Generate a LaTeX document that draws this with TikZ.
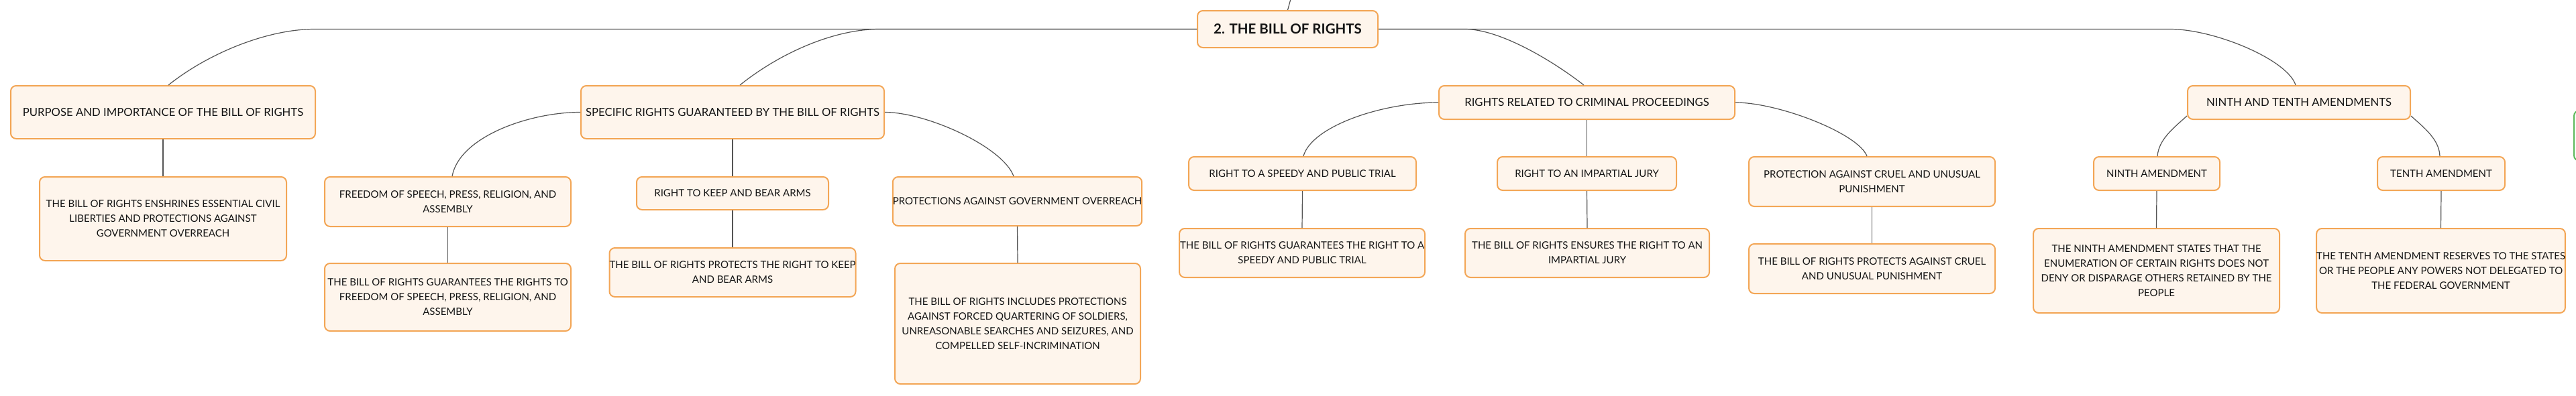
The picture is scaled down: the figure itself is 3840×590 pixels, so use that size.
\documentclass[tikz,border=0pt]{standalone}
\usepackage{fontspec}
\setmainfont{Lato}
\usepackage{tikz}
\usetikzlibrary{calc}

\definecolor{boxline}{RGB}{243,166,86}
\definecolor{boxfill}{RGB}{254,245,236}
\definecolor{linkgray}{RGB}{85,85,85}
\definecolor{nextgreen}{RGB}{92,184,92}
\definecolor{ink}{RGB}{20,20,20}

\tikzset{
  box/.style={draw=boxline, fill=boxfill, line width=2pt, rounded corners=8pt,
    align=center, inner sep=0pt, text=ink},
  rootbox/.style={box, font=\bfseries\fontsize{20.5}{24}\selectfont},
  topicbox/.style={box, font=\fontsize{16.7}{22}\selectfont},
  notebox/.style={box, font=\fontsize{15}{22}\selectfont},
  link/.style={draw=linkgray, line width=1.2pt}
}

\begin{document}
\begin{tikzpicture}[x=1pt,y=-1pt]
\useasboundingbox (0,0) rectangle (3840,590);

% root
\node[rootbox, minimum width=269, minimum height=55] (root) at (1919.5,43.5) {2. THE BILL OF RIGHTS};
\coordinate (up) at (1925,-5);

% main topics
\node[topicbox, minimum width=454, minimum height=79] (purpose) at (243,167.5) {PURPOSE AND IMPORTANCE OF THE BILL OF RIGHTS};
\node[topicbox, minimum width=452, minimum height=79] (specific) at (1092,167.5) {SPECIFIC RIGHTS GUARANTEED BY THE BILL OF RIGHTS};
\node[topicbox, minimum width=441, minimum height=50] (crim) at (2365.5,153) {RIGHTS RELATED TO CRIMINAL PROCEEDINGS};
\node[topicbox, minimum width=332, minimum height=50] (ninten) at (3427,153) {NINTH AND TENTH AMENDMENTS};

% subtopics
\node[notebox, minimum width=367, minimum height=74] (freedom) at (667.5,301) {FREEDOM OF SPEECH, PRESS, RELIGION, AND\\ASSEMBLY};
\node[notebox, minimum width=286, minimum height=49] (arms) at (1092,288.5) {RIGHT TO KEEP AND BEAR ARMS};
\node[notebox, minimum width=367, minimum height=73] (protect) at (1516.5,300.5) {PROTECTIONS AGAINST GOVERNMENT OVERREACH};
\node[notebox, minimum width=339, minimum height=50] (speedy) at (1941.5,259) {RIGHT TO A SPEEDY AND PUBLIC TRIAL};
\node[notebox, minimum width=267, minimum height=50] (jury) at (2365.5,259) {RIGHT TO AN IMPARTIAL JURY};
\node[notebox, minimum width=367, minimum height=74] (cruel) at (2790.5,271) {PROTECTION AGAINST CRUEL AND UNUSUAL\\PUNISHMENT};
\node[notebox, minimum width=188, minimum height=50] (ninth) at (3215,259) {NINTH AMENDMENT};
\node[notebox, minimum width=190, minimum height=50] (tenth) at (3639,259) {TENTH AMENDMENT};

% notes
\node[notebox, minimum width=368, minimum height=125] (purposeN) at (243,326.5) {THE BILL OF RIGHTS ENSHRINES ESSENTIAL CIVIL\\LIBERTIES AND PROTECTIONS AGAINST\\GOVERNMENT OVERREACH};
\node[notebox, minimum width=367, minimum height=101] (freedomN) at (667.5,443.5) {THE BILL OF RIGHTS GUARANTEES THE RIGHTS TO\\FREEDOM OF SPEECH, PRESS, RELIGION, AND\\ASSEMBLY};
\node[notebox, minimum width=366, minimum height=73] (armsN) at (1092,406.5) {THE BILL OF RIGHTS PROTECTS THE RIGHT TO KEEP\\AND BEAR ARMS};
\node[notebox, minimum width=366, minimum height=180] (protectN) at (1517,483) {THE BILL OF RIGHTS INCLUDES PROTECTIONS\\AGAINST FORCED QUARTERING OF SOLDIERS,\\UNREASONABLE SEARCHES AND SEIZURES, AND\\COMPELLED SELF-INCRIMINATION};
\node[notebox, minimum width=366, minimum height=73] (speedyN) at (1941,377.5) {THE BILL OF RIGHTS GUARANTEES THE RIGHT TO A\\SPEEDY AND PUBLIC TRIAL};
\node[notebox, minimum width=364, minimum height=73] (juryN) at (2366,377.5) {THE BILL OF RIGHTS ENSURES THE RIGHT TO AN\\IMPARTIAL JURY};
\node[notebox, minimum width=367, minimum height=74] (cruelN) at (2790.5,401) {THE BILL OF RIGHTS PROTECTS AGAINST CRUEL\\AND UNUSUAL PUNISHMENT};
\node[notebox, minimum width=367, minimum height=126] (ninthN) at (3214.5,404) {THE NINTH AMENDMENT STATES THAT THE\\ENUMERATION OF CERTAIN RIGHTS DOES NOT\\DENY OR DISPARAGE OTHERS RETAINED BY THE\\PEOPLE};
\node[notebox, minimum width=367, minimum height=126] (tenthN) at (3638.5,404) {THE TENTH AMENDMENT RESERVES TO THE STATES\\OR THE PEOPLE ANY POWERS NOT DELEGATED TO\\THE FEDERAL GOVERNMENT};

% next map, cut off at the edge
\node[draw=nextgreen, fill=white, line width=2pt, rounded corners=8pt, minimum width=60, minimum height=75] (next) at (3867,202.5) {};

% links from the root
\draw[link] (root.north) -- (up);
\draw[link] (root.west) -- ++(-1315,0) .. controls +(-70,0) and ($(purpose.north)+(68,-48)$) .. ([xshift=8pt]purpose.north);
\draw[link] (root.west) -- ++(-473,0) .. controls +(-70,0) and ($(specific.north)+(68,-46)$) .. ([xshift=11pt]specific.north);
\draw[link] (root.east) -- ++(129,0) .. controls +(50,0) and ($(crim.north)+(-54.5,-39)$) .. ([xshift=-4.5pt]crim.north);
\draw[link] (root.east) -- ++(1180,0) .. controls +(66,0) and ($(ninten.north)+(-17,-38)$) .. ([xshift=-5pt]ninten.north);

% links to subtopics
\draw[link] (specific.west) .. controls +(-76,0) and ($(freedom.north)+(17.5,-59)$) .. ([xshift=6.5pt]freedom.north);
\draw[link] (specific.south) -- (arms.north);
\draw[link] (specific.east) .. controls +(62,0) and ($(protect.north)+(-21.5,-44)$) .. ([xshift=-5.5pt]protect.north);
\draw[link] (crim.west) .. controls +(-85,0) and ($(speedy.north)+(13.5,-44)$) .. ([xshift=1.5pt]speedy.north);
\draw[link] (crim.south) -- (jury.north);
\draw[link] (crim.east) .. controls +(64,0) and ($(cruel.north)+(-20.5,-34)$) .. ([xshift=-7.5pt]cruel.north);
\draw[link] ([yshift=6pt]ninten.south west) .. controls +(-20,18) and ($(ninth.north)+(3,-25)$) .. ([xshift=1pt]ninth.north);
\draw[link] ([yshift=6pt]ninten.south east) .. controls +(20,18) and ($(tenth.north)+(-3,-25)$) .. ([xshift=-2pt]tenth.north);

% links to notes
\draw[link] (purpose.south) -- (purposeN.north);
\draw[link] (freedom.south) -- (freedomN.north);
\draw[link] (arms.south) -- (armsN.north);
\draw[link] (protect.south) -- (protectN.north);
\draw[link] (speedy.south) -- (speedyN.north);
\draw[link] (jury.south) -- (juryN.north);
\draw[link] (cruel.south) -- (cruelN.north);
\draw[link] (ninth.south) -- (ninthN.north);
\draw[link] (tenth.south) -- (tenthN.north);
\end{tikzpicture}
\end{document}
